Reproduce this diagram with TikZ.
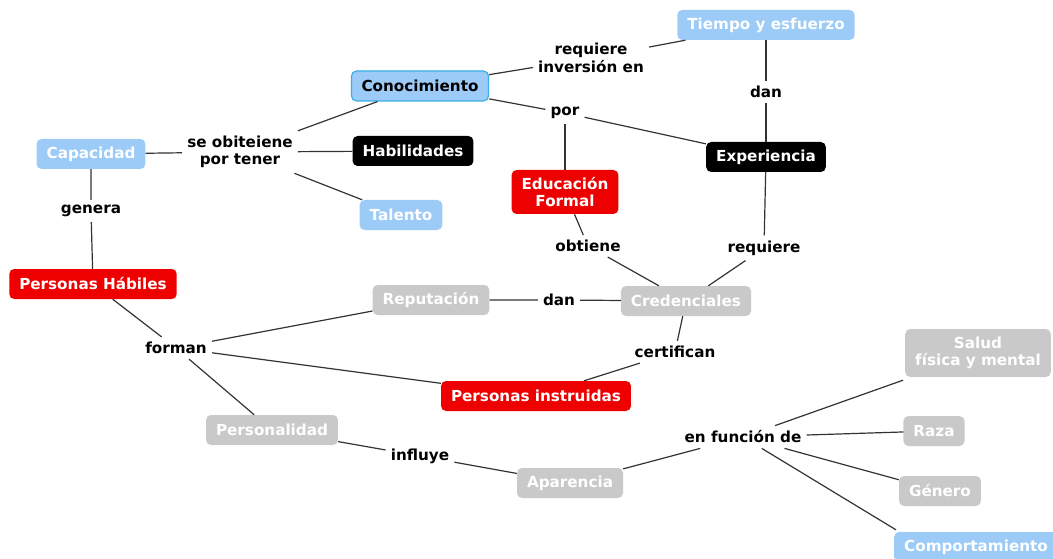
\documentclass[tikz,border=0pt]{standalone}
\usepackage{fontspec}
\setmainfont{DejaVu Sans}
\definecolor{azulc}{HTML}{9CCBF8}
\definecolor{bordeazul}{HTML}{3AAFE3}
\definecolor{rojoc}{HTML}{EE0000}
\definecolor{grisc}{HTML}{C9C9C9}
\definecolor{linea}{HTML}{333333}
\tikzset{
  concepto/.style={rounded corners=5pt, inner xsep=10pt, inner ysep=3pt, minimum height=30pt, align=center, text=white},
  azul/.style={concepto, fill=azulc},
  rojo/.style={concepto, fill=rojoc},
  negro/.style={concepto, fill=black},
  gris/.style={concepto, fill=grisc},
  frase/.style={align=center, inner sep=5pt, text=black},
  enlace/.style={draw=linea, line width=1.2pt}
}
\begin{document}
\begin{tikzpicture}[x=1pt, y=-1pt, font=\fontsize{15.2}{17.5}\selectfont\bfseries]
\useasboundingbox (0,0) rectangle (1053,559);
% conceptos
\node [azul] (tiempo) at (766,25) {Tiempo y esfuerzo};
\node [azul, draw=bordeazul, line width=1.2pt, text=black] (cono) at (420,86) {Conocimiento};
\node [azul] (capa) at (91,154) {Capacidad};
\node [negro] (habil) at (413,151) {Habilidades};
\node [negro] (expe) at (766,157) {Experiencia};
\node [azul] (talento) at (401,215) {Talento};
\node [rojo, minimum height=44pt] (edu) at (565,192) {Educación\\Formal};
\node [rojo] (phab) at (93,284) {Personas Hábiles};
\node [gris] (repu) at (431,300) {Reputación};
\node [gris] (cred) at (686,301) {Credenciales};
\node [rojo] (pins) at (536,396) {Personas instruidas};
\node [gris, minimum height=48pt] (salud) at (978,353) {Salud\\física y mental};
\node [gris] (perso) at (272,430) {Personalidad};
\node [gris] (raza) at (934,431) {Raza};
\node [gris] (apar) at (570,483) {Aparencia};
\node [gris] (genero) at (940,491) {Género};
\node [azul] (comp) at (976,547) {Comportamiento};
% frases de enlace
\node [frase] (req) at (591,58) {requiere\\inversión en};
\node [frase] (dana) at (766,92) {dan};
\node [frase] (por) at (565,113) {por};
\node [frase] (obt) at (240,152) {se obiteiene\\por tener};
\node [frase] (gen) at (91,211) {genera};
\node [frase] (obti) at (588,246) {obtiene};
\node [frase] (requ) at (764,248) {requiere};
\node [frase] (danb) at (559,300) {dan};
\node [frase] (forman) at (176,348) {forman};
\node [frase] (cert) at (675,352) {certifican};
\node [frase] (func) at (743,437) {en función de};
\node [frase] (infl) at (420,456) {influye};
% conexiones
\draw [enlace] (cono) -- (req) -- (tiempo);
\draw [enlace] (tiempo) -- (dana) -- (expe);
\draw [enlace] (cono) -- (por) -- (expe);
\draw [enlace] (por) -- (edu);
\draw [enlace] (capa) -- (obt);
\foreach \d in {cono,habil,talento} \draw [enlace] (obt) -- (\d);
\draw [enlace] (capa) -- (gen) -- (phab);
\draw [enlace] (edu) -- (obti) -- (cred);
\draw [enlace] (expe) -- (requ) -- (cred);
\draw [enlace] (repu) -- (danb) -- (cred);
\draw [enlace] (cred) -- (cert) -- (pins);
\draw [enlace] (phab) -- (forman);
\foreach \d in {repu,pins,perso} \draw [enlace] (forman) -- (\d);
\draw [enlace] (perso) -- (infl) -- (apar);
\draw [enlace] (apar) -- (func);
\draw [enlace] (func) -- ([shift={(-2,3)}]salud.south west);
\foreach \d in {raza,genero} \draw [enlace] (func) -- (\d);
\draw [enlace] (func) -- ([shift={(2,-2)}]comp.north west);
\end{tikzpicture}
\end{document}
